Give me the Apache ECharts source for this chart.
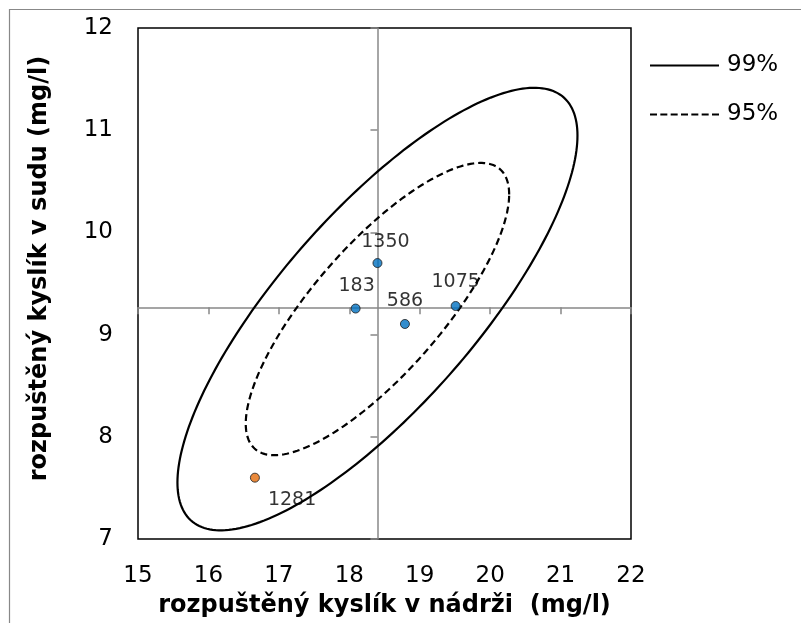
<!DOCTYPE html>
<html>
<head>
<meta charset="utf-8">
<script src="https://cdn.jsdelivr.net/npm/echarts@6/dist/echarts.min.js"></script>
<style>
  html, body { margin: 0; padding: 0; background: #fff; }
  #chart { width: 801px; height: 623px; }
</style>
</head>
<body>
<div id="chart"></div>
<script>
// axis ranges
const xRange = [15, 22];
const yRange = [7, 12];
const axisCross = [18.4, 9.25]; // where the gray axes cross

// measured samples
const pointIds = ["183", "1350", "586", "1075", "1281"];
const oxygenTank = [18.09, 18.4, 18.79, 19.51, 16.66];
const oxygenBarrel = [9.255, 9.7, 9.104, 9.28, 7.6];

// confidence ellipses: center, [x half-width, y half-height, correlation]
const ellipseCenter = [18.4, 9.25];
const ellipse99 = [2.84, 2.165, 0.784];
const ellipse95 = [1.87, 1.43, 0.784];

const outlierIdx = 4;

const gridBox = { left: 138, top: 28, right: 170, bottom: 80 };
const gridW = 801 - gridBox.left - gridBox.right;
const gridH = 623 - gridBox.top - gridBox.bottom;

const font = "DejaVu Sans";

const labelCfg = {
  "183": { position: "top", distance: 8, offset: [1, 0] },
  "1350": { position: "top", distance: 8, offset: [8, 2] },
  "586": { position: "top", distance: 8, offset: [0, 0] },
  "1075": { position: "top", distance: 8, offset: [0, -1] },
  "1281": { position: "right", distance: 8, offset: [0, 22] }
};

function pointData(keep) {
  const out = [];
  pointIds.forEach((id, i) => {
    if (!keep(i)) return;
    out.push({ value: [oxygenTank[i], oxygenBarrel[i]], name: id, label: labelCfg[id] });
  });
  return out;
}

function ellipseItem(p) {
  return [ellipseCenter[0], ellipseCenter[1], p[0], p[1], p[2]];
}

function drawEllipse(dash) {
  return function (params, api) {
    const cx = api.value(0), cy = api.value(1);
    const sx = api.value(2), sy = api.value(3), r = api.value(4);
    const k = Math.sqrt(1 - r * r);
    const pts = [];
    for (let i = 0; i <= 240; i++) {
      const t = (i / 240) * Math.PI * 2;
      const u = Math.cos(t), v = Math.sin(t);
      pts.push(api.coord([cx + sx * u, cy + sy * (r * u + k * v)]));
    }
    return {
      type: "polyline",
      shape: { points: pts },
      style: { fill: null, stroke: "#000", lineWidth: 2.2, lineDash: dash }
    };
  };
}

const solidIcon = "path://M0,0H69V2H0Z";
let dashPath = "path://";
for (let i = 0; i < 7; i++) {
  const s = (i * 62 / 6).toFixed(2);
  dashPath += "M" + s + ",0h7v2h-7z";
}

const labelStyle = {
  show: true, formatter: "{b}", fontFamily: font, fontSize: 19,
  color: "#000", textBorderWidth: 0
};

const chart = echarts.init(document.getElementById("chart"));
chart.setOption({
  animation: false,
  backgroundColor: "#fff",
  textStyle: { fontFamily: font },
  graphic: [{
    type: "rect",
    shape: { x: 9.5, y: 9.5, width: 1000, height: 1000 },
    style: { fill: null, stroke: "#888", lineWidth: 1.2 },
    silent: true,
    z: -1
  }],
  grid: {
    left: gridBox.left, right: gridBox.right, top: gridBox.top, bottom: gridBox.bottom,
    show: true, borderColor: "#000", borderWidth: 1.5, backgroundColor: "transparent"
  },
  legend: {
    orient: "vertical",
    left: 645,
    top: 49,
    itemWidth: 69,
    itemHeight: 2,
    itemGap: 26,
    itemStyle: { borderWidth: 0 },
    textStyle: { fontFamily: font, fontSize: 23, color: "#000", padding: [0, 0, 0, 3] },
    data: [
      { name: "99%", icon: solidIcon },
      { name: "95%", icon: dashPath }
    ]
  },
  xAxis: [{
    type: "value",
    min: xRange[0], max: xRange[1], interval: 1,
    position: "bottom",
    axisLine: { show: false },
    axisTick: { show: false },
    splitLine: { show: false },
    axisLabel: { fontFamily: font, fontSize: 23, color: "#000", margin: 26 },
    name: "rozpuštěný kyslík v nádrži  (mg/l)",
    nameLocation: "middle",
    nameGap: 55,
    nameTextStyle: { fontFamily: font, fontSize: 24, fontWeight: "bold", color: "#000" }
  }, {
    type: "value",
    min: xRange[0], max: xRange[1], interval: 1,
    position: "bottom",
    offset: -((axisCross[1] - yRange[0]) / (yRange[1] - yRange[0])) * gridH,
    axisLine: { show: true, lineStyle: { color: "#888", width: 1.5 } },
    axisTick: { show: true, length: 7, lineStyle: { color: "#888", width: 1.5 } },
    axisLabel: { show: false },
    splitLine: { show: false }
  }],
  yAxis: [{
    type: "value",
    min: yRange[0], max: yRange[1], interval: 1,
    position: "left",
    axisLine: { show: false },
    axisTick: { show: false },
    splitLine: { show: false },
    axisLabel: { fontFamily: font, fontSize: 23, color: "#000", margin: 25 },
    name: "rozpuštěný kyslík v sudu (mg/l)",
    nameLocation: "middle",
    nameGap: 86,
    nameTextStyle: { fontFamily: font, fontSize: 24, fontWeight: "bold", color: "#000", padding: [0, 0, 0, 30] }
  }, {
    type: "value",
    min: yRange[0], max: yRange[1], interval: 1,
    position: "left",
    offset: -((axisCross[0] - xRange[0]) / (xRange[1] - xRange[0])) * gridW,
    axisLine: { show: true, lineStyle: { color: "#888", width: 1.5 } },
    axisTick: { show: true, length: 7, lineStyle: { color: "#888", width: 1.5 } },
    axisLabel: { show: false },
    splitLine: { show: false }
  }],
  series: [{
    name: "99%",
    type: "custom",
    xAxisIndex: 0, yAxisIndex: 0,
    itemStyle: { color: "#000" },
    renderItem: drawEllipse(null),
    data: [ellipseItem(ellipse99)],
    z: 3
  }, {
    name: "95%",
    type: "custom",
    xAxisIndex: 0, yAxisIndex: 0,
    itemStyle: { color: "#000" },
    renderItem: drawEllipse([7, 4]),
    data: [ellipseItem(ellipse95)],
    z: 3
  }, {
    name: "samples",
    type: "scatter",
    xAxisIndex: 0, yAxisIndex: 0,
    symbolSize: 9,
    itemStyle: { color: "#0070C0", borderColor: "#1a1a1a", borderWidth: 1 },
    label: labelStyle,
    data: pointData(i => i !== outlierIdx),
    z: 4
  }, {
    name: "outlier",
    type: "scatter",
    xAxisIndex: 0, yAxisIndex: 0,
    symbolSize: 9,
    itemStyle: { color: "#E46C0A", borderColor: "#1a1a1a", borderWidth: 1 },
    label: labelStyle,
    data: pointData(i => i === outlierIdx),
    z: 4
  }]
});
</script>
</body>
</html>
